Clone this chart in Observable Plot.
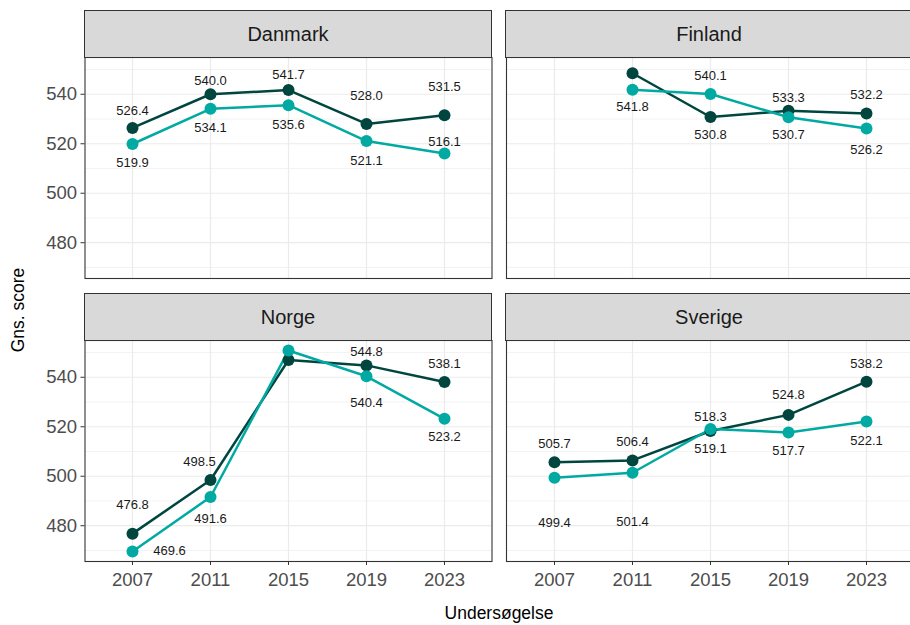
<!DOCTYPE html>
<html><head><meta charset="utf-8">
<script src="https://cdn.jsdelivr.net/npm/d3@7"></script>
<script src="https://cdn.jsdelivr.net/npm/@observablehq/plot@0.6"></script>
<style>
body{margin:0;background:#fff;font-family:"Liberation Sans",Arial,sans-serif;overflow:hidden;}
#chart{position:relative;width:910px;height:625px;overflow:hidden;background:#fff;}
.strip{position:absolute;background:#d9d9d9;border:1px solid #333;box-sizing:border-box;display:flex;align-items:center;justify-content:center;font-size:20px;color:#1a1a1a;}
.panel{position:absolute;}
.title{position:absolute;font-size:17.5px;color:#000;white-space:nowrap;}
</style></head><body><div id="chart"></div>
<script>
// ---- data ----
const years = ["2007", "2011", "2015", "2019", "2023"];
const countries = ["Danmark", "Finland", "Norge", "Sverige"];
const seriesNames = ["Serie 1", "Serie 2"]; // dark, light
const seriesColors = ["#00463f", "#00aaa3"];

const danmarkDark  = [526.4, 540.0, 541.7, 528.0, 531.5];
const danmarkLight = [519.9, 534.1, 535.6, 521.1, 516.1];
const finlandDark  = [null, 548.5, 530.8, 533.3, 532.2];
const finlandLight = [null, 541.8, 540.1, 530.7, 526.2];
const norgeDark    = [476.8, 498.5, 547.0, 544.8, 538.1];
const norgeLight   = [469.6, 491.6, 550.8, 540.4, 523.2];
const sverigeDark  = [505.7, 506.4, 518.3, 524.8, 538.2];
const sverigeLight = [499.4, 501.4, 519.1, 517.7, 522.1];

const yTicks = [480, 500, 520, 540];
const yMinorTicks = [470, 490, 510, 530, 550];

// label placement (repelled offsets in px; null = label not shown)
const danmarkDarkDy  = [-17, -13, -15, -28, -28];
const danmarkLightDy = [19, 19, 20, 20, -12];
const finlandDarkDy  = [null, null, 18, -13, -19];
const finlandLightDy = [null, 17, -18, 18, 21];
const norgeDarkDy    = [-29, -18, null, -14, -18];
const norgeLightDy   = [-1, 22, null, 27, 18];
const sverigeDarkDy  = [-18, -19, -14, -20, -18];
const sverigeLightDy = [45, 49, 20, 18, 19];
const norgeDarkDx    = [0, -11, 0, 0, 0];
const norgeLightDx   = [37, 0, 0, 0, 0];

// ---- build table ----
const seriesTable = [
  ["Danmark", 0, danmarkDark, danmarkDarkDy, null],
  ["Danmark", 1, danmarkLight, danmarkLightDy, null],
  ["Finland", 0, finlandDark, finlandDarkDy, null],
  ["Finland", 1, finlandLight, finlandLightDy, null],
  ["Norge", 0, norgeDark, norgeDarkDy, norgeDarkDx],
  ["Norge", 1, norgeLight, norgeLightDy, norgeLightDx],
  ["Sverige", 0, sverigeDark, sverigeDarkDy, null],
  ["Sverige", 1, sverigeLight, sverigeLightDy, null]
];
const rows = [];
for (const [country, s, vals, dys, dxs] of seriesTable) {
  vals.forEach((v, i) => {
    if (v == null) return;
    rows.push({country, series: seriesNames[s], year: years[i], value: v,
      dy: dys[i], dx: dxs ? dxs[i] : 0});
  });
}
const allVals = rows.map(d => d.value);
const vmin = d3.min(allVals), vmax = d3.max(allVals), ext = (vmax - vmin) * 0.05;
const yDomain = [vmin - ext, vmax + ext];

// ---- layout ----
const chart = document.getElementById("chart");
const FONT = '"Liberation Sans", Arial, sans-serif';
const PW = 407, PH = 221;
const colX = [84.5, 505.5];
const rowY = [57, 340];
const stripH = 47;

countries.forEach((country, k) => {
  const col = k % 2, row = Math.floor(k / 2);
  const isLeft = col === 0, isBottom = row === 1;
  const mL = isLeft ? colX[0] : 1, mR = 1, mT = 1, mB = isBottom ? 52 : 1;
  const data = rows.filter(d => d.country === country);
  const labelled = data.filter(d => d.dy != null);
  const marks = [
    Plot.gridY(yMinorTicks, {stroke: "#ebebeb", strokeOpacity: 1, strokeWidth: 0.6}),
    Plot.gridY(yTicks, {stroke: "#ebebeb", strokeOpacity: 1, strokeWidth: 1.2}),
    Plot.gridX(years, {stroke: "#ebebeb", strokeOpacity: 1, strokeWidth: 1.2}),
    isLeft ? Plot.axisY(yTicks, {label: null, tickSize: 4, tickPadding: 4, stroke: "#333", fill: "#4d4d4d", fontSize: 18.5}) : null,
    isBottom ? Plot.axisX(years, {label: null, tickSize: 4, tickPadding: 7, stroke: "#333", fill: "#4d4d4d", fontSize: 18.5}) : null,
    Plot.line(data, {x: "year", y: "value", z: "series", stroke: "series", strokeWidth: 2.5}),
    Plot.dot(data, {x: "year", y: "value", fill: "series", r: 6, stroke: null}),
    ...labelled.map(d => Plot.text([d], {x: "year", y: "value", text: d => d.value.toFixed(1),
      dx: d.dx, dy: d.dy, fontSize: 13, fill: "#1a1a1a"})),
    Plot.frame({stroke: "#333", strokeWidth: 1.1})
  ];
  const svg = Plot.plot({
    width: mL + PW + mR, height: mT + PH + mB,
    marginLeft: mL, marginRight: mR, marginTop: mT, marginBottom: mB,
    style: {background: "transparent", overflow: "visible", fontFamily: FONT},
    x: {type: "point", domain: years, padding: 0.6, axis: null},
    y: {domain: yDomain, axis: null},
    color: {domain: seriesNames, range: seriesColors},
    marks
  });
  svg.classList.add("panel");
  svg.style.left = (colX[col] - mL) + "px";
  svg.style.top = (rowY[row] - mT) + "px";
  chart.appendChild(svg);

  const strip = document.createElement("div");
  strip.className = "strip";
  strip.textContent = country;
  strip.style.left = (colX[col] - 0.5) + "px";
  strip.style.top = (rowY[row] - stripH) + "px";
  strip.style.width = (PW + 1) + "px";
  strip.style.height = (stripH + 1) + "px";
  chart.appendChild(strip);
});

const yt = document.createElement("div");
yt.className = "title";
yt.textContent = "Gns. score";
yt.style.left = "18px"; yt.style.top = "310px";
yt.style.transform = "translate(-50%,-50%) rotate(-90deg)";
chart.appendChild(yt);

const xt = document.createElement("div");
xt.className = "title";
xt.textContent = "Undersøgelse";
xt.style.left = "499px"; xt.style.top = "613px";
xt.style.transform = "translate(-50%,-50%)";
chart.appendChild(xt);
</script>
</body></html>
